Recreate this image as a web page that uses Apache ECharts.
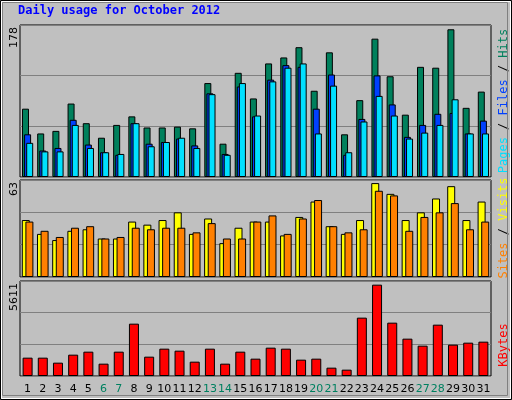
<!DOCTYPE html>
<html><head><meta charset="utf-8">
<script src="https://cdn.jsdelivr.net/npm/echarts@6/dist/echarts.min.js"></script>
<style>html,body{margin:0;padding:0;background:#c0c0c0}#c{width:512px;height:400px}</style>
</head><body><div id="c"></div>
<script>
const days = ['1','2','3','4','5','6','7','8','9','10','11','12','13','14','15','16','17','18','19','20','21','22','23','24','25','26','27','28','29','30','31'];
const weekends = ['6','7','13','14','20','21','27','28'];
const hits  = [80,51,54,86,63,46,61,71,58,58,59,57,110,39,122,92,133,140,152,101,146,50,90,162,118,73,129,128,173,81,100];
const files = [50,31,34,67,38,29,26,63,39,41,45,37,98,27,106,71,114,131,129,80,120,26,68,119,85,47,61,74,75,51,66];
const pages = [40,30,30,61,34,29,27,63,36,41,46,34,97,26,110,72,112,128,133,51,107,29,65,95,72,45,52,61,91,51,51];
const visits = [37,28,24,30,31,25,25,36,34,37,42,28,38,22,32,36,36,27,39,49,33,28,37,61,54,37,42,51,59,37,49];
const sites  = [36,30,26,32,33,25,26,32,31,32,32,29,35,25,25,36,40,28,38,50,33,29,31,56,53,30,39,42,48,31,36];
const kbytes = [1083,1083,788,1260,1437,729,1437,3091,1142,1615,1496,847,1615,729,1437,1024,1674,1615,965,1024,492,374,3446,5395,3150,2205,1792,3032,1851,1969,2028];
const maxLabels = [178, 63, 5611];
const title = 'Daily usage for October 2012';

const L = 20, R = 21;
const grids = [{left:L,right:R,top:25,height:152},{left:L,right:R,top:180,height:97},{left:L,right:R,top:281,height:95}];
const bs = {borderColor:'#000',borderWidth:1};
function yAx(i,max){return {gridIndex:i,min:0,max:max,interval:max/3,
  axisLine:{show:false},axisTick:{show:false},axisLabel:{show:false},
  splitLine:{lineStyle:{color:'#808080',width:1}}};}
function xAx(i,show){return {gridIndex:i,type:'category',data:days,boundaryGap:true,
  axisLine:{show:false},axisTick:{show:false},
  axisLabel:{show:show,margin:8,fontFamily:'DejaVu Sans',fontSize:11,interval:0,
    color:(v)=>weekends.includes(v)?'#008060':'#000'}};}
const maxTexts = maxLabels.map((m,i)=>({type:'text',x:9,y:grids[i].top+2,rotation:Math.PI/2,
  style:{text:String(m),align:'right',verticalAlign:'top',font:'11px "DejaVu Sans"',fill:'#000'}}));
const opt = {
  animation:false,
  backgroundColor:'#c0c0c0',
  grid:grids.map(g=>Object.assign({show:true,borderColor:'#000',borderWidth:1,backgroundColor:'#c0c0c0'},g)),
  xAxis:[xAx(0,false),xAx(1,false),xAx(2,true)],
  yAxis:[yAx(0,178),yAx(1,63),yAx(2,5611)],
  series:[
    {type:'bar',xAxisIndex:0,yAxisIndex:0,data:hits,barWidth:7,barGap:'-70%',itemStyle:Object.assign({color:'#00805c'},bs)},
    {type:'bar',xAxisIndex:0,yAxisIndex:0,data:files,barWidth:7,barGap:'-70%',itemStyle:Object.assign({color:'#0040ff'},bs)},
    {type:'bar',xAxisIndex:0,yAxisIndex:0,data:pages,barWidth:7,barGap:'-70%',itemStyle:Object.assign({color:'#00e0ff'},bs)},
    {type:'bar',xAxisIndex:1,yAxisIndex:1,data:visits,barWidth:8,barGap:'-55%',itemStyle:Object.assign({color:'#ffff00'},bs)},
    {type:'bar',xAxisIndex:1,yAxisIndex:1,data:sites,barWidth:8,barGap:'-55%',itemStyle:Object.assign({color:'#ff8000'},bs)},
    {type:'bar',xAxisIndex:2,yAxisIndex:2,data:kbytes,barWidth:10,itemStyle:Object.assign({color:'#ff0000'},bs)}
  ],
  graphic:[
    {type:'rect',shape:{x:0.5,y:0.5,width:511,height:399},style:{fill:null,stroke:'#000',lineWidth:1},z:100},
    {type:'rect',shape:{x:1.5,y:1.5,width:509,height:397},style:{fill:null,stroke:'#fff',lineWidth:1},z:100},
    {type:'rect',shape:{x:2.5,y:2.5,width:505,height:393},style:{fill:null,stroke:'#808080',lineWidth:1},z:100},
    {type:'text',left:18,top:5,style:{text:title,font:'bold 12px "DejaVu Sans Mono"',fill:'#0000ff'}},
    {type:'text',x:504,y:101,rotation:Math.PI/2,style:{text:'{p|Pages} / {f|Files} / {h|Hits}',align:'center',verticalAlign:'middle',
      font:'12px "DejaVu Sans Mono"',fill:'#000',rich:{p:{fill:'#00e0ff',font:'12px "DejaVu Sans Mono"'},f:{fill:'#0040ff',font:'12px "DejaVu Sans Mono"'},h:{fill:'#00805c',font:'12px "DejaVu Sans Mono"'}}}},
    {type:'text',x:504,y:228,rotation:Math.PI/2,style:{text:'{s|Sites} / {v|Visits}',align:'center',verticalAlign:'middle',
      font:'12px "DejaVu Sans Mono"',fill:'#000',rich:{s:{fill:'#ff8000',font:'12px "DejaVu Sans Mono"'},v:{fill:'#ffff00',font:'12px "DejaVu Sans Mono"'}}}},
    {type:'text',x:504,y:345,rotation:Math.PI/2,style:{text:'KBytes',align:'center',verticalAlign:'middle',font:'12px "DejaVu Sans Mono"',fill:'#ff0000'}}
  ].concat(maxTexts)
};
echarts.init(document.getElementById('c')).setOption(opt);
</script></body></html>
